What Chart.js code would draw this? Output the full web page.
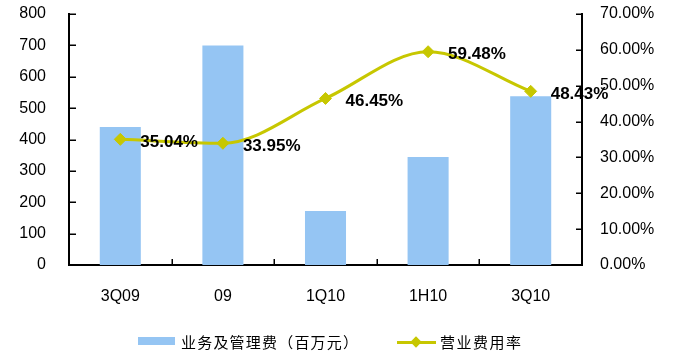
<!DOCTYPE html>
<html>
<head>
<meta charset="utf-8">
<script src="https://cdn.jsdelivr.net/npm/chart.js@4"></script>
<style>
  html, body { margin: 0; padding: 0; background: #fff; }
  #wrap { position: relative; width: 680px; height: 356px; }
  #legend .item { position: absolute; }
  #legend .txt { font-family: "Noto Sans CJK SC", sans-serif; font-size: 15px; line-height: 20px; color: #000; letter-spacing: 1.5px; white-space: nowrap; }
</style>
</head>
<body>
<div id="wrap">
  <canvas id="c" width="680" height="356"></canvas>
  <div id="legend">
    <div class="item" style="left:138px;top:337px;width:37px;height:8px;background:rgb(149,197,243);"></div>
    <div class="item txt" style="left:181px;top:332px;letter-spacing:1.2px;">业务及管理费（百万元）</div>
    <div class="item" style="left:397px;top:341px;width:39px;height:3px;background:rgb(199,199,0);"></div>
    <div class="item" style="left:412px;top:338px;width:8px;height:8px;background:rgb(199,199,0);transform:rotate(45deg);"></div>
    <div class="item txt" style="left:440px;top:332px;">营业费用率</div>
  </div>
</div>
<script>
// Periods
const categories = ['3Q09', '09', '1Q10', '1H10', '3Q10'];
// Business & management expense, million yuan
const expenses = [440, 700, 172, 344, 538];
// Operating expense ratio, %
const expenseRatio = [35.04, 33.95, 46.45, 59.48, 48.43];
// Axis ticks
const leftTicks = [0, 100, 200, 300, 400, 500, 600, 700, 800];
const rightTicks = [0, 10, 20, 30, 40, 50, 60, 70];

const BAR_COLOR = 'rgb(149,197,243)';
const LINE_COLOR = 'rgb(199,199,0)';
const FONT = '"Liberation Sans", Arial, sans-serif';

// Short inward tick marks on all three axes
const tickMarks = {
  id: 'tickMarks',
  afterDraw(chart) {
    const { ctx, chartArea, scales } = chart;
    ctx.save();
    ctx.strokeStyle = '#000';
    ctx.lineWidth = 1.5;
    ctx.beginPath();
    leftTicks.forEach(v => {
      const y = Math.round(scales.y.getPixelForValue(v)) + 0.25;
      ctx.moveTo(chartArea.left, y);
      ctx.lineTo(chartArea.left + 7, y);
    });
    rightTicks.forEach(v => {
      const y = Math.round(scales.y2.getPixelForValue(v)) + 0.25;
      ctx.moveTo(chartArea.right, y);
      ctx.lineTo(chartArea.right - 6, y);
    });
    for (let i = 0; i < categories.length - 1; i++) {
      const x = Math.round(scales.x.getPixelForValue(i + 0.5)) + 0.25;
      ctx.moveTo(x, chartArea.bottom);
      ctx.lineTo(x, chartArea.bottom - 6);
    }
    ctx.stroke();
    ctx.restore();
  }
};

// Percentage labels beside each point of the ratio line
const pointLabels = {
  id: 'pointLabels',
  afterDatasetsDraw(chart) {
    const { ctx } = chart;
    const meta = chart.getDatasetMeta(1);
    ctx.save();
    ctx.font = 'bold 17px ' + FONT;
    ctx.fillStyle = '#000';
    ctx.textAlign = 'left';
    ctx.textBaseline = 'middle';
    meta.data.forEach((pt, i) => {
      ctx.fillText(expenseRatio[i].toFixed(2) + '%', pt.x + 20, pt.y + 3);
    });
    ctx.restore();
  }
};

function fixVertical(width) {
  return s => { s.width = width; s.paddingTop = 0; s.paddingBottom = 0; };
}

new Chart(document.getElementById('c'), {
  data: {
    labels: categories,
    datasets: [
      {
        type: 'bar',
        label: '业务及管理费(百万元)',
        data: expenses,
        backgroundColor: BAR_COLOR,
        borderWidth: 0,
        barPercentage: 0.4,
        categoryPercentage: 1,
        yAxisID: 'y',
        order: 2
      },
      {
        type: 'line',
        label: '营业费用率',
        data: expenseRatio,
        borderColor: LINE_COLOR,
        backgroundColor: LINE_COLOR,
        borderWidth: 3,
        cubicInterpolationMode: 'monotone',
        pointStyle: 'rectRot',
        pointRadius: 6,
        pointBorderWidth: 1,
        pointBorderColor: LINE_COLOR,
        pointBackgroundColor: LINE_COLOR,
        yAxisID: 'y2',
        order: 1
      }
    ]
  },
  options: {
    responsive: false,
    animation: false,
    devicePixelRatio: 1,
    layout: { padding: { top: 14, left: 0, right: 0, bottom: 0 } },
    plugins: { legend: { display: false }, tooltip: { enabled: false } },
    scales: {
      x: {
        offset: true,
        grid: { display: false, drawTicks: false },
        border: { display: true, color: '#000', width: 2 },
        ticks: { color: '#000', font: { family: FONT, size: 16 }, padding: 22 },
        afterFit(s) { s.height = 91; s.paddingLeft = 0; s.paddingRight = 0; }
      },
      y: {
        position: 'left',
        min: 0, max: 800,
        afterBuildTicks(s) { s.ticks = leftTicks.map(v => ({ value: v })); },
        grid: { display: false, drawTicks: false },
        border: { display: true, color: '#000', width: 2 },
        ticks: { color: '#000', font: { family: FONT, size: 16 }, padding: 23 },
        afterFit: fixVertical(69)
      },
      y2: {
        position: 'right',
        min: 0, max: 70,
        afterBuildTicks(s) { s.ticks = rightTicks.map(v => ({ value: v })); },
        grid: { display: false, drawTicks: false },
        border: { display: true, color: '#000', width: 2 },
        ticks: {
          color: '#000', font: { family: FONT, size: 16 }, padding: 18,
          callback: v => Number(v).toFixed(2) + '%'
        },
        afterFit: fixVertical(98)
      }
    }
  },
  plugins: [tickMarks, pointLabels]
});
</script>
</body>
</html>
